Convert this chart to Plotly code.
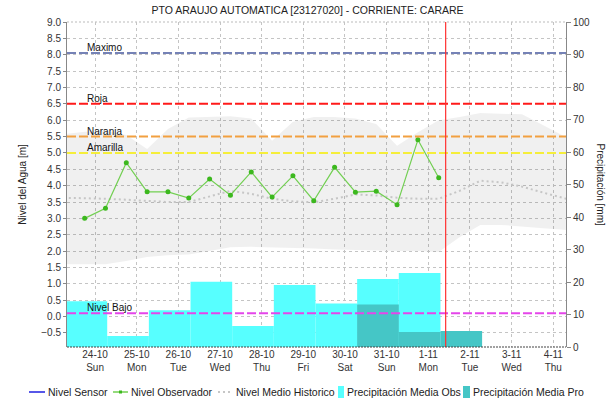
import pandas as pd
import plotly.graph_objects as go

TITLE = "PTO ARAUJO AUTOMATICA [23127020] - CORRIENTE: CARARE"

# Observer readings (m), one every 12 h
obs_start = "2021-10-23 18:00"
nivel_observador = [3.00, 3.31, 4.70, 3.81, 3.81, 3.62, 4.20, 3.71, 4.42,
                    3.65, 4.30, 3.54, 4.56, 3.80, 3.83, 3.42, 5.40, 4.24]

# Sensor series (no readings in this period)
nivel_sensor_t = []
nivel_sensor = []

# Historic statistics (m), one every 12 h
hist_start = "2021-10-23 06:00"
hist_max = [5.57, 5.65, 5.68, 5.55, 5.12, 5.73, 6.08, 6.10, 6.12, 6.05, 5.37, 5.95, 6.10,
            6.10, 6.05, 5.88, 5.22, 5.63, 6.00, 6.10, 6.22, 6.20, 6.18, 5.85, 5.52, 5.30]
hist_min = [1.60, 1.60, 1.60, 1.70, 1.82, 1.87, 1.90, 2.00, 2.12, 2.13, 2.12, 2.11, 2.08,
            2.05, 2.03, 2.02, 2.00, 2.00, 1.97, 2.42, 2.80, 2.80, 2.76, 2.70, 2.65, 2.60]
hist_medio = [3.63, 3.62, 3.60, 3.57, 3.54, 3.50, 3.50, 3.68, 3.84, 3.75, 3.60, 3.52, 3.49,
              3.60, 3.73, 3.70, 3.63, 3.60, 3.60, 3.84, 4.15, 4.10, 3.97, 3.79, 3.61, 3.45]

# Daily precipitation (mm), each accumulated from 07:00 to 07:00
precip_obs_start = "2021-10-23 07:00"
precip_obs = [14.1, 3.4, 11.3, 20.1, 6.5, 19.1, 13.4, 20.9, 22.8]
precip_pro_start = "2021-10-30 07:00"
precip_pro = [13.1, 4.6, 4.9]

# Alert thresholds (m)
umbral_nombres = ["Maximo", "Roja", "Naranja", "Amarilla", "Nivel Bajo"]
umbral_valores = [8.05, 6.5, 5.5, 5.0, 0.1]
umbral_colores = ["#7582b6", "#ff1a1a", "#f2a040", "#f5ee3a", "#e545ea"]

AHORA = "2021-11-01 10:00"
X_RANGE = ["2021-10-23 07:50", "2021-11-04 07:20"]
Y_TICKS = [-0.5 + 0.5 * i for i in range(20)]

obs_t = pd.date_range(obs_start, periods=len(nivel_observador), freq="12h")
hist_t = pd.date_range(hist_start, periods=len(hist_max), freq="12h")
pobs_t = pd.date_range(precip_obs_start, periods=len(precip_obs), freq="D")
ppro_t = pd.date_range(precip_pro_start, periods=len(precip_pro), freq="D")
DAY_MS = 86400000

FONT = "Liberation Sans, Arial, sans-serif"
W, H = 615, 401
L, R, T, B = 67, 49, 22, 54
PW, PH = W - L - R, H - T - B


def xp(px):
    return (px - L) / PW


def yp(py):
    return (H - B - py) / PH


fig = go.Figure()

# historic band
fig.add_trace(go.Scatter(x=hist_t, y=hist_min, mode="lines", line=dict(width=0),
                         hoverinfo="skip", showlegend=False))
fig.add_trace(go.Scatter(x=hist_t, y=hist_max, mode="lines", line=dict(width=0),
                         fill="tonexty", fillcolor="rgba(0,0,0,0.06)",
                         hoverinfo="skip", showlegend=False))
fig.add_trace(go.Scatter(x=hist_t, y=hist_medio, mode="lines", name="Nivel Medio Historico",
                         line=dict(color="#c6c6c6", width=2, dash="2px,3px"), showlegend=False))
fig.add_trace(go.Scatter(x=nivel_sensor_t, y=nivel_sensor, mode="lines", name="Nivel Sensor",
                         line=dict(color="#1f1fe0", width=1), showlegend=False))
fig.add_trace(go.Scatter(x=obs_t, y=nivel_observador, mode="lines+markers", name="Nivel Observador",
                         line=dict(color="#72cf52", width=1.2),
                         marker=dict(color="#3cb81e", size=5), showlegend=False))

# precipitation bars on the right axis
fig.add_trace(go.Bar(x=pobs_t, y=precip_obs, width=DAY_MS, offset=0, yaxis="y2",
                     marker=dict(color="#57ffff", line=dict(width=0)),
                     name="Precipitación Media Obs", showlegend=False))
fig.add_trace(go.Bar(x=ppro_t, y=precip_pro, width=DAY_MS, offset=0, yaxis="y2",
                     marker=dict(color="#45c6c6", line=dict(width=0)),
                     name="Precipitación Media Pro", showlegend=False))

shapes = []
annotations = []

# threshold lines and their labels
for nombre, valor, color in zip(umbral_nombres, umbral_valores, umbral_colores):
    shapes.append(dict(type="line", xref="paper", yref="y", x0=0, x1=1, y0=valor, y1=valor,
                       line=dict(color=color, width=2, dash="9px,3px"), layer="above"))
    annotations.append(dict(text=nombre, xref="paper", yref="y", x=xp(85), y=valor,
                            xanchor="left", yanchor="bottom", showarrow=False, yshift=-2,
                            font=dict(family=FONT, size=10, color="#111")))

# current time marker
shapes.append(dict(type="line", xref="x", yref="paper", x0=AHORA, x1=AHORA, y0=0, y1=1,
                   line=dict(color="#ff3030", width=1.2), layer="above"))
# dotted baseline and top line
shapes.append(dict(type="line", xref="paper", yref="paper", x0=0, x1=1, y0=0, y1=0,
                   line=dict(color="#444", width=1.2, dash="2px,1px"), layer="above"))
shapes.append(dict(type="line", xref="paper", yref="paper", x0=0, x1=1, y0=1, y1=1,
                   line=dict(color="#bbbbbb", width=1, dash="2px,2px"), layer="below"))

# legend drawn by hand
LEG_Y = 392
leg_font = dict(family=FONT, size=10.5, color="#222")
legend_items = [
    ("line", 29, 45, "#1f1fe0", 47, "Nivel Sensor"),
    ("marker", 113, 128, "#72cf52", 130, "Nivel Observador"),
    ("dots", 218, 233, "#c6c6c6", 235, "Nivel Medio Historico"),
    ("box", 338, 344, "#57ffff", 346, "Precipitación Media Obs"),
    ("box", 463, 470, "#45c6c6", 472, "Precipitación Media Pro"),
]
for kind, a, b, color, tx, label in legend_items:
    if kind == "box":
        shapes.append(dict(type="rect", xref="paper", yref="paper", x0=xp(a), x1=xp(b),
                           y0=yp(LEG_Y + 6), y1=yp(LEG_Y - 6), fillcolor=color,
                           line=dict(width=0)))
    else:
        dash = "2px,3px" if kind == "dots" else "solid"
        shapes.append(dict(type="line", xref="paper", yref="paper", x0=xp(a), x1=xp(b),
                           y0=yp(LEG_Y), y1=yp(LEG_Y),
                           line=dict(color=color, width=1.5 if kind != "dots" else 2, dash=dash)))
        if kind == "marker":
            m = (a + b) / 2
            shapes.append(dict(type="rect", xref="paper", yref="paper", x0=xp(m - 1.5),
                               x1=xp(m + 1.5), y0=yp(LEG_Y + 1.5), y1=yp(LEG_Y - 1.5),
                               fillcolor="#3cb81e", line=dict(width=0)))
    annotations.append(dict(text=label, xref="paper", yref="paper", x=xp(tx), y=yp(LEG_Y),
                            xanchor="left", yanchor="middle", showarrow=False,
                            font=leg_font, xshift=-1))

# right axis title, reading downwards
annotations.append(dict(text="Precipitación [mm]", xref="paper", yref="paper",
                        x=xp(600), y=0.5, textangle=90, showarrow=False,
                        xanchor="center", yanchor="middle",
                        font=dict(family=FONT, size=10, color="#222")))

fig.update_layout(
    width=W, height=H,
    margin=dict(l=L, r=R, t=T, b=B),
    paper_bgcolor="white", plot_bgcolor="white",
    font=dict(family=FONT, size=10, color="#333"),
    title=dict(text=TITLE, x=0.5, xanchor="center", xref="container",
               y=1 - 10 / H, yanchor="middle", yref="container",
               font=dict(family=FONT, size=10.5, color="#222")),
    showlegend=False,
    barmode="overlay",
    xaxis=dict(type="date", range=X_RANGE, dtick=DAY_MS, tick0="2021-10-24",
               tickformat="%-d-%m<br>%a", showgrid=True, gridcolor="#c4c4c4",
               griddash="dot", gridwidth=1, ticks="", zeroline=False, showline=False,
               tickfont=dict(family=FONT, size=10, color="#333")),
    yaxis=dict(range=[-0.93, 9.0], tickvals=Y_TICKS, tickformat=".1f",
               showgrid=True, gridcolor="#c4c4c4", griddash="dot", zeroline=False,
               showline=True, linecolor="#888", linewidth=1, ticks="outside",
               ticklen=3, tickcolor="#888",
               title=dict(text="Nivel del Agua [m]", standoff=12,
                          font=dict(family=FONT, size=10, color="#222")),
               tickfont=dict(family=FONT, size=10, color="#333")),
    yaxis2=dict(range=[0, 100], dtick=10, overlaying="y", side="right",
                showgrid=False, zeroline=False, showline=True, linecolor="#888",
                linewidth=1, ticks="outside", ticklen=4, tickcolor="#888",
                tickfont=dict(family=FONT, size=10, color="#333")),
    shapes=shapes,
    annotations=annotations,
)

fig.write_html("out.html")
